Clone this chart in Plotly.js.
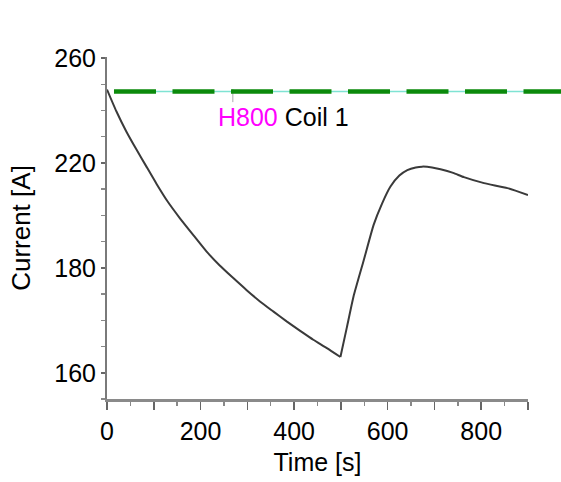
<!DOCTYPE html>
<html>
<head>
<meta charset="utf-8">
<script src="https://cdn.plot.ly/plotly-3.0.1.min.js"></script>
<style>html,body{margin:0;padding:0;background:#fff;}#chart{width:561px;height:482px;}</style>
</head>
<body>
<div id="chart"></div>
<script>
// Coil current vs time
const timeS = [0, 20, 41, 63, 84, 106, 130, 156, 185, 213, 241, 270, 298, 327, 356, 384, 413, 441, 470, 499, 513, 527, 549, 570, 588, 606, 625, 642, 660, 674, 695, 713, 740, 763, 806, 856, 900];
const currentA = [248.0, 239.7, 232.1, 225.1, 218.7, 212.0, 205.2, 198.9, 192.4, 186.2, 180.9, 176.1, 171.6, 167.2, 163.3, 159.6, 156.0, 152.6, 149.4, 146.0, 157.5, 169.1, 183.0, 196.4, 204.5, 211.0, 215.2, 217.3, 218.3, 218.6, 218.3, 217.6, 216.2, 214.6, 212.3, 210.4, 207.8];
const switchTime = 499; // the current minimum: sharp corner in the curve

// Reference level (dashed line) and its label
const refLevel = [247.2];
const labelText = ['H800', 'Coil 1'];
const labelPos = {x: 232, y: 237.6};
const markerTickX = [269];

// Axis ticks
const xTickVals = [0, 100, 200, 300, 400, 500, 600, 700, 800, 900];
const xTickText = ['0', '', '200', '', '400', '', '600', '', '800', ''];
const yTickVals = [140, 180, 220, 260];
const yTickText = ['160', '180', '220', '260'];

const FONT = '"Liberation Sans", Arial, Helvetica, sans-serif';

const k = timeS.indexOf(switchTime);
const lineStyle = {color: '#3a3a3a', width: 2, shape: 'spline', smoothing: 0.5};
const traces = [
  {x: timeS.slice(0, k + 1), y: currentA.slice(0, k + 1), type: 'scatter', mode: 'lines',
   line: lineStyle, hoverinfo: 'x+y', showlegend: false},
  {x: timeS.slice(k), y: currentA.slice(k), type: 'scatter', mode: 'lines',
   line: lineStyle, hoverinfo: 'x+y', showlegend: false}
];

const layout = {
  width: 561,
  height: 482,
  margin: {l: 107, r: 33, t: 57, b: 83},
  paper_bgcolor: '#ffffff',
  plot_bgcolor: '#ffffff',
  font: {family: FONT, size: 25, color: '#000'},
  showlegend: false,
  xaxis: {
    range: [0, 900],
    tickmode: 'array',
    tickvals: xTickVals,
    ticktext: xTickText,
    ticks: 'outside',
    ticklen: 8,
    tickwidth: 1.5,
    tickcolor: '#666',
    minor: {dtick: 50, ticks: 'outside', ticklen: 4, tickwidth: 1.5, tickcolor: '#888', showgrid: false},
    showline: true,
    linecolor: '#8a8a8a',
    linewidth: 3,
    showgrid: false,
    zeroline: false,
    tickfont: {family: FONT, size: 25, color: '#000'},
    title: {text: 'Time [s]', font: {family: FONT, size: 25, color: '#000'}, standoff: 10}
  },
  yaxis: {
    range: [130, 260.4],
    tickmode: 'array',
    tickvals: yTickVals,
    ticktext: yTickText,
    ticks: 'outside',
    ticklen: 4,
    tickwidth: 1.5,
    tickcolor: '#666',
    minor: {dtick: 10, ticks: 'outside', ticklen: 4, tickwidth: 1.5, tickcolor: '#888', showgrid: false},
    showline: true,
    linecolor: '#7a7a7a',
    linewidth: 2,
    showgrid: false,
    zeroline: false,
    tickfont: {family: FONT, size: 25, color: '#000'},
    title: {text: 'Current [A]', font: {family: FONT, size: 26, color: '#000'}, standoff: 16}
  },
  shapes: [
    {type: 'line', xref: 'paper', yref: 'y', x0: 0.0166, x1: 1.08, y0: refLevel[0], y1: refLevel[0],
     line: {color: '#7fe3d3', width: 1.5}, layer: 'above'},
    {type: 'line', xref: 'paper', yref: 'y', x0: 0.0166, x1: 1.08, y0: refLevel[0], y1: refLevel[0],
     line: {color: '#0b8a0b', width: 4.5, dash: '42px,16.5px'}, layer: 'above'},
    {type: 'line', xref: 'x', yref: 'y', x0: markerTickX[0], x1: markerTickX[0], y0: refLevel[0] + 1, y1: refLevel[0] - 4,
     line: {color: '#aaaaaa', width: 1}, layer: 'below'}
  ],
  annotations: [{
    x: labelPos.x, y: labelPos.y, xref: 'x', yref: 'y',
    xanchor: 'left', yanchor: 'middle', showarrow: false,
    text: '<span style="color:#ff00ff">' + labelText[0] + '</span> ' + labelText[1],
    font: {family: FONT, size: 25, color: '#000'}
  }]
};

Plotly.newPlot('chart', traces, layout, {displayModeBar: false, staticPlot: true});
</script>
</body>
</html>
